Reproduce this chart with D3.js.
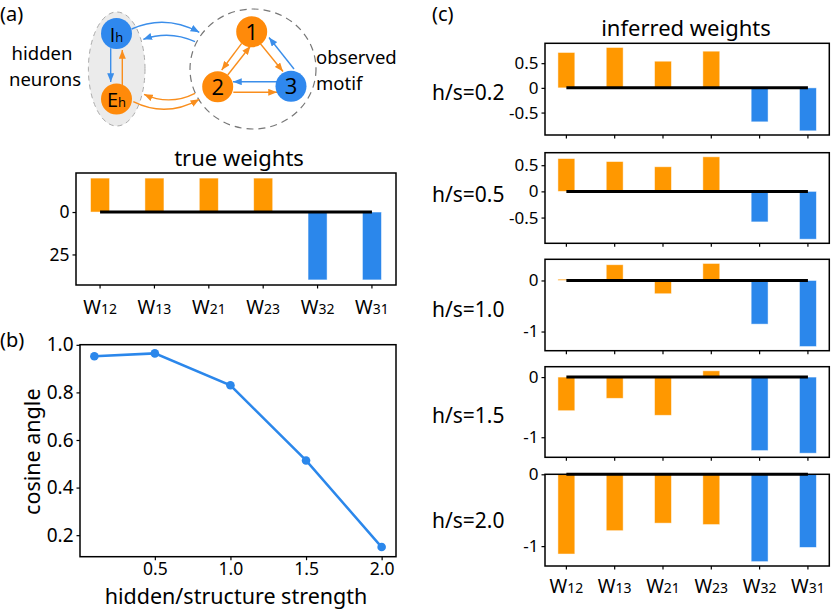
<!DOCTYPE html>
<html><head><meta charset="utf-8">
<script src="https://cdn.jsdelivr.net/npm/d3@7"></script>
<style>body{margin:0;background:#fff} text{font-family:"Noto Sans",sans-serif;fill:#000}</style>
</head><body><svg id="c" width="831" height="611"></svg>
<script>
// ---------------- data ----------------
const weightSubs = ["12","13","21","23","32","31"];
const weightType = ["E","E","E","E","I","I"];
const trueWeights = [20,20,20,20,-40,-40];
const trueTicks = [0,-25];
const trueTickLabels = ["0","25"];
const hsLabels = ["h/s=0.2","h/s=0.5","h/s=1.0","h/s=1.5","h/s=2.0"];
const inferred02 = [0.717,0.818,0.54,0.743,-0.688,-0.87];
const inferred05 = [0.627,0.57,0.47,0.66,-0.583,-0.913];
const inferred10 = [0.025,0.308,-0.26,0.333,-0.855,-1.294];
const inferred15 = [-0.559,-0.353,-0.635,0.104,-1.222,-1.265];
const inferred20 = [-1.11,-0.785,-0.68,-0.70,-1.216,-1.018];
const inferredTicks = [[0.5,0,-0.5],[0.5,0,-0.5],[0,-1],[0,-1],[0,-1]];
const inferredTickLabels = [["0.5","0","-0.5"],["0.5","0","-0.5"],["0","-1"],["0","-1"],["0","-1"]];
const hsValues = [0.1,0.5,1.0,1.5,2.0];
const cosineAngle = [0.952,0.964,0.83,0.514,0.15];
const cosTicksX = [0.5,1.0,1.5,2.0];
const cosTickLabelsX = ["0.5","1.0","1.5","2.0"];
const cosTicksY = [0.2,0.4,0.6,0.8,1.0];
const cosTickLabelsY = ["0.2","0.4","0.6","0.8","1.0"];

// ---------------- styles ----------------
const ORANGE = "#ff9800", BLUE = "#2b87eb";
const NODE_OR = "#ff8a0a", NODE_BL = "#2f88ee";
const ARR_OR = "#f98e1d", ARR_BL = "#3b8eea";

const svg = d3.select("#c");
svg.append("rect").attr("width",831).attr("height",611).attr("fill","#fff");

function yDomain(vals){
  let lo = Math.min(0, ...vals), hi = Math.max(0, ...vals);
  const m = (hi-lo)*0.05;
  return [lo<0 ? lo-m : lo, hi>0 ? hi+m : hi];
}

function barPanel(opt){
  const g = svg.append("g");
  const bw = 0.35;
  const xs = d3.scaleLinear().domain([-bw/2-(5+bw)*0.05, 5+bw/2+(5+bw)*0.05]).range([opt.x0,opt.x1]);
  const ys = d3.scaleLinear().domain(yDomain(opt.values)).range([opt.y1,opt.y0]);
  g.selectAll("rect.bar").data(opt.values).join("rect")
    .attr("x",(d,i)=>xs(i-bw/2)).attr("width",xs(bw)-xs(0))
    .attr("y",d=>ys(Math.max(0,d))).attr("height",d=>Math.abs(ys(d)-ys(0)))
    .attr("fill",(d,i)=>weightType[i]==="E"?ORANGE:BLUE)
    .attr("stroke","#fff").attr("stroke-opacity",0.6).attr("stroke-width",0.8);
  g.append("line").attr("x1",xs(0)).attr("x2",xs(5)).attr("y1",ys(0)).attr("y2",ys(0))
    .attr("stroke","#000").attr("stroke-width",3);
  const ya = d3.axisLeft(ys).tickValues(opt.ticks).tickFormat((d,i)=>opt.tickLabels[i]).tickSize(3.5).tickPadding(3);
  const yg = g.append("g").attr("transform",`translate(${opt.x0},0)`).call(ya);
  yg.select(".domain").remove();
  yg.selectAll("text").style("font-size",opt.tickFont+"px").attr("fill","#000");
  yg.selectAll("line").attr("stroke","#000").attr("stroke-width",1.2);
  const xg = g.append("g");
  d3.range(6).forEach(i=>{
    xg.append("line").attr("x1",xs(i)).attr("x2",xs(i)).attr("y1",opt.y1).attr("y2",opt.y1+3.5)
      .attr("stroke","#000").attr("stroke-width",1.2);
  });
  if(opt.xlabels){
    weightSubs.forEach((s,i)=>{
      const t = xg.append("text").attr("x",xs(i)).attr("y",opt.labelY).attr("text-anchor","middle");
      t.append("tspan").text("W").style("font-size","19px");
      t.append("tspan").text(s).style("font-size","14px");
    });
  }
  g.append("rect").attr("x",opt.x0).attr("y",opt.y0).attr("width",opt.x1-opt.x0).attr("height",opt.y1-opt.y0)
    .attr("fill","none").attr("stroke","#000").attr("stroke-width",1.5);
  return g;
}

// ---------------- panel (a) diagram ----------------
const defs = svg.append("defs");
[["mo",ARR_OR],["mb",ARR_BL]].forEach(([id,c])=>{
  defs.append("marker").attr("id",id).attr("viewBox","0 0 10 8").attr("refX",10).attr("refY",4)
    .attr("markerWidth",9).attr("markerHeight",7).attr("markerUnits","userSpaceOnUse").attr("orient","auto")
    .append("path").attr("d","M0,0L10,4L0,8Z").attr("fill",c);
});
const A = svg.append("g");
A.append("text").attr("x",0).attr("y",21).text("(a)").style("font-size","20px");
A.append("ellipse").attr("cx",116.7).attr("cy",69).attr("rx",28.3).attr("ry",57)
  .attr("fill","#ebebeb").attr("stroke","#aaa").attr("stroke-dasharray","5,4").attr("stroke-width",1);
A.append("ellipse").attr("cx",253).attr("cy",69).attr("rx",63).attr("ry",60)
  .attr("fill","none").attr("stroke","#777").attr("stroke-dasharray","7,5").attr("stroke-width",1.2);
A.append("text").attr("x",42).attr("y",60).attr("text-anchor","middle").text("hidden").style("font-size","18.5px");
A.append("text").attr("x",45).attr("y",85.5).attr("text-anchor","middle").text("neurons").style("font-size","18.5px");
A.append("text").attr("x",316).attr("y",63.5).text("observed").style("font-size","18.5px");
A.append("text").attr("x",316).attr("y",89.5).text("motif").style("font-size","18.5px");

function arrow(d,c){
  A.append("path").attr("d",d).attr("fill","none").attr("stroke",c==="o"?ARR_OR:ARR_BL)
    .attr("stroke-width",1.4).attr("marker-end",`url(#m${c==="o"?"o":"b"})`);
}
arrow("M131.7,29 Q165,14 199.3,32.3","b");
arrow("M195,41.7 Q170,30 143.3,39.3","b");
arrow("M133.3,101.7 Q166,118 199.3,99.3","o");
arrow("M195,93.3 Q170,106 144,94.3","o");
arrow("M110.7,48.3 L110.7,82","b");
arrow("M122.3,85 L122.3,50","o");
arrow("M241.7,43.3 L221.7,70","o");
arrow("M227.7,75 L250.5,46","o");
arrow("M260,43.3 L283,71.5","o");
arrow("M294,69 L269,37.5","b");
arrow("M277.3,81.7 L233,81.7","b");
arrow("M233.3,92.3 L277,92.3","o");

const nodes = [
  {x:116.5,y:33.5,c:NODE_BL,t:"I",s:"h"},
  {x:116.5,y:99,c:NODE_OR,t:"E",s:"h"},
  {x:251.7,y:31.7,c:NODE_OR,t:"1"},
  {x:217.7,y:86.7,c:NODE_OR,t:"2"},
  {x:291,y:86.3,c:NODE_BL,t:"3"}
];
nodes.forEach(n=>{
  A.append("circle").attr("cx",n.x).attr("cy",n.y).attr("r",15.5).attr("fill",n.c);
  const t = A.append("text").attr("x",n.x).attr("y",n.y+8).attr("text-anchor","middle")
    .style("font-family","'Open Sans',sans-serif");
  if(n.s){
    t.append("tspan").text(n.t).style("font-size","20px");
    t.append("tspan").text(n.s).style("font-size","13px");
  } else {
    t.text(n.t).style("font-size","22px");
  }
});

// true weights
svg.append("text").attr("x",239).attr("y",166).attr("text-anchor","middle").text("true weights").style("font-size","22px");
barPanel({x0:76,x1:396,y0:173,y1:285,values:trueWeights,ticks:trueTicks,tickLabels:trueTickLabels,tickFont:17.5,xlabels:true,labelY:314});

// ---------------- panel (b) ----------------
const B = svg.append("g");
B.append("text").attr("x",0).attr("y",347).text("(b)").style("font-size","20px");
const bx0=80,bx1=396,by0=344.7,by1=556.7;
const xsB = d3.scaleLinear().domain([0.005,2.095]).range([bx0,bx1]);
const ysB = d3.scaleLinear().domain([0.1095,1.0005]).range([by1,by0]);
const xaB = d3.axisBottom(xsB).tickValues(cosTicksX).tickFormat((d,i)=>cosTickLabelsX[i]).tickSize(3.5).tickPadding(2);
const xgB = B.append("g").attr("transform",`translate(0,${by1})`).call(xaB);
xgB.select(".domain").remove();
xgB.selectAll("text").style("font-size","17.5px").attr("fill","#000");
xgB.selectAll("line").attr("stroke","#000").attr("stroke-width",1.2);
const yaB = d3.axisLeft(ysB).tickValues(cosTicksY).tickFormat((d,i)=>cosTickLabelsY[i]).tickSize(3.5).tickPadding(3);
const ygB = B.append("g").attr("transform",`translate(${bx0},0)`).call(yaB);
ygB.select(".domain").remove();
ygB.selectAll("text").style("font-size","19px").attr("fill","#000");
ygB.selectAll("line").attr("stroke","#000").attr("stroke-width",1.2);
const pts = hsValues.map((v,i)=>[v,cosineAngle[i]]);
B.append("path").attr("d",d3.line().x(d=>xsB(d[0])).y(d=>ysB(d[1]))(pts))
  .attr("fill","none").attr("stroke",BLUE).attr("stroke-width",2.5);
B.selectAll("circle.pt").data(pts).join("circle").attr("cx",d=>xsB(d[0])).attr("cy",d=>ysB(d[1])).attr("r",4.3).attr("fill",BLUE);
B.append("rect").attr("x",bx0).attr("y",by0).attr("width",bx1-bx0).attr("height",by1-by0)
  .attr("fill","none").attr("stroke","#000").attr("stroke-width",1.5);
B.append("text").attr("transform","translate(40,451.7) rotate(-90)").attr("text-anchor","middle")
  .text("cosine angle").style("font-size","21.5px");
B.append("text").attr("x",236).attr("y",604).attr("text-anchor","middle")
  .text("hidden/structure strength").style("font-size","21.5px");

// ---------------- panel (c) ----------------
svg.append("text").attr("x",432).attr("y",21).text("(c)").style("font-size","20px");
svg.append("text").attr("x",686).attr("y",35.5).attr("text-anchor","middle").text("inferred weights").style("font-size","22px");
const inferred = [inferred02,inferred05,inferred10,inferred15,inferred20];
const cFrames = [[43.3,135],[152.7,243.3],[259.3,350.7],[366.7,457.3],[474.3,566]];
const hsLabelY = [100,201.7,316.7,423.3,528.3];
inferred.forEach((vals,k)=>{
  barPanel({x0:545,x1:829.3,y0:cFrames[k][0],y1:cFrames[k][1],values:vals,
    ticks:inferredTicks[k],tickLabels:inferredTickLabels[k],tickFont:17,xlabels:k===4,labelY:592.7});
  svg.append("text").attr("x",432).attr("y",hsLabelY[k]).text(hsLabels[k]).style("font-size","21px");
});
</script></body></html>
